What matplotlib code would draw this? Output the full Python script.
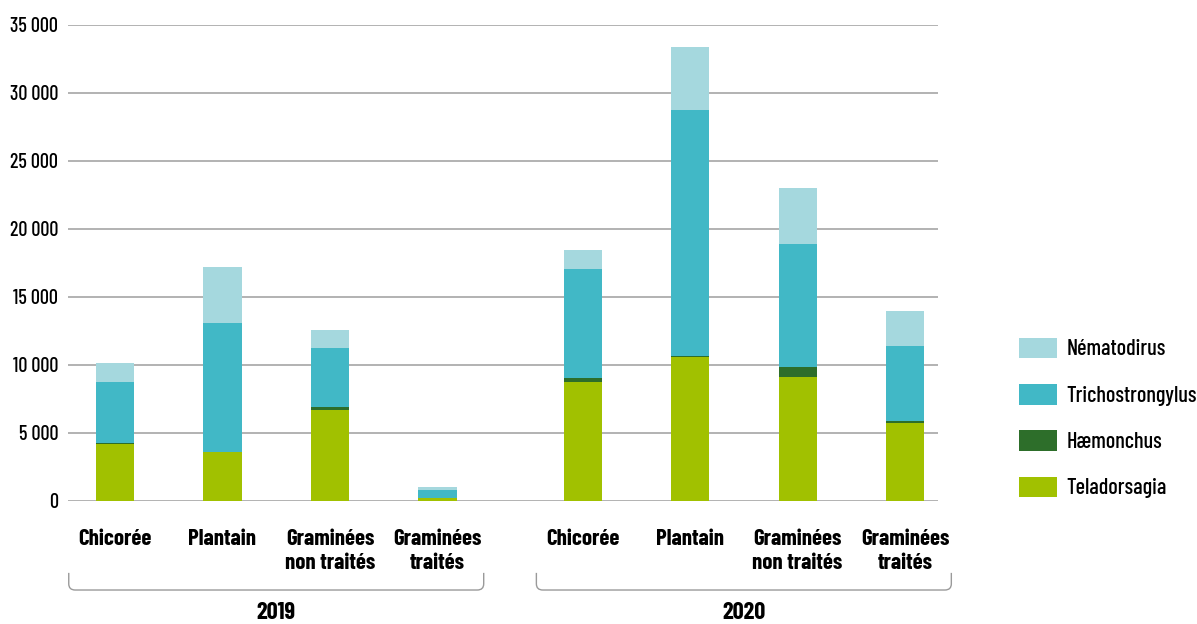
import matplotlib.pyplot as plt
from matplotlib.path import Path
from matplotlib.patches import PathPatch, Patch
import matplotlib.transforms as mtransforms
from matplotlib.ticker import FuncFormatter

plt.rcParams['font.family'] = ['Barlow Condensed', 'DejaVu Sans']

years = ['2019', '2020']
categories = ['Chicorée', 'Plantain', 'Graminées\nnon traités', 'Graminées\ntraités']
teladorsagia = [4200, 3600, 6700, 250, 8770, 10600, 9150, 5750]
haemonchus = [100, 0, 200, 0, 250, 80, 700, 130]
trichostrongylus = [4450, 9500, 4350, 550, 8040, 18070, 9050, 5520]
nematodirus = [1400, 4100, 1350, 250, 1400, 4630, 4100, 2570]

series = [
    ('Teladorsagia', teladorsagia, '#a1c100'),
    ('Hæmonchus', haemonchus, '#2d6e2a'),
    ('Trichostrongylus', trichostrongylus, '#41b8c6'),
    ('Nématodirus', nematodirus, '#a5d8de'),
]

gap = 0.35
xpos = [i + (gap if i >= 4 else 0) for i in range(8)]

fig = plt.figure(figsize=(11.97, 6.24), dpi=100)
ax = fig.add_axes([68 / 1197, 123 / 624, 870 / 1197, 476 / 624])

bottom = [0] * 8
for name, vals, col in series:
    ax.bar(xpos, vals, width=0.355, bottom=bottom, color=col, zorder=3)
    bottom = [b + v for b, v in zip(bottom, vals)]

ax.set_ylim(0, 35000)
ax.set_xlim(-0.437, 7.656)
ax.set_yticks(range(0, 35001, 5000))
ax.yaxis.set_major_formatter(FuncFormatter(lambda v, p: f'{int(v):,}'.replace(',', ' ')))
ax.grid(axis='y', color='#a6a6a6', linewidth=1.2, zorder=0)
for s in ax.spines.values():
    s.set_visible(False)
ax.tick_params(axis='y', length=0, pad=7, labelsize=14.5)
for t in ax.get_yticklabels():
    t.set_fontweight(500)
ax.tick_params(axis='x', length=0, pad=20)
ax.set_xticks(xpos)
ax.set_xticklabels(categories * 2, fontsize=16.5, fontweight='bold', va='top', linespacing=1.25)

# brackets under each year
trans = mtransforms.blended_transform_factory(ax.transData, ax.transAxes)
rx, ry = 0.06, 0.013
y0, y1 = -0.151, -0.187
for k, yr in enumerate(years):
    c = 1.5 + k * (4 + gap)
    xl, xr = c - 1.93, c + 1.93
    verts = [(xl, y0), (xl, y1 + ry), (xl, y1), (xl + rx, y1),
             (xr - rx, y1), (xr, y1), (xr, y1 + ry), (xr, y0)]
    codes = [Path.MOVETO, Path.LINETO, Path.CURVE3, Path.CURVE3,
             Path.LINETO, Path.CURVE3, Path.CURVE3, Path.LINETO]
    ax.add_patch(PathPatch(Path(verts, codes), transform=trans, fill=False,
                           edgecolor='#9a9a9a', linewidth=1.0, clip_on=False))
    ax.text(c, -0.235, yr, transform=trans, ha='center', va='center',
            fontsize=17.5, fontweight='bold')

handles = [Patch(facecolor=col, label=name) for name, vals, col in series][::-1]
leg = fig.legend(handles=handles, loc='center left', bbox_to_anchor=(1019 / 1197, 1 - 418 / 624),
                 frameon=False, fontsize=16, handlelength=1.7, handleheight=1.05,
                 labelspacing=1.1, handletextpad=0.45, borderpad=0, borderaxespad=0)
for t in leg.get_texts():
    t.set_fontweight(500)

fig.savefig('out.png', dpi=100)
